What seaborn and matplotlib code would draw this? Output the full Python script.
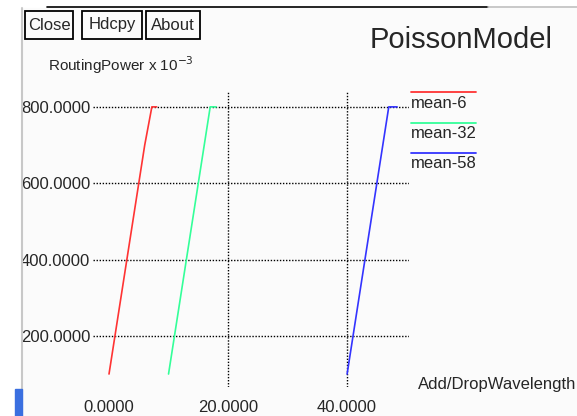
import pandas as pd
import seaborn as sns
import matplotlib.pyplot as plt
from matplotlib.lines import Line2D
from matplotlib.patches import Rectangle

# data
series_names = ["mean-6", "mean-32", "mean-58"]
wavelength_6 = [0, 1, 2, 3, 4, 5, 6, 7.2, 8]
wavelength_32 = [10, 11, 12, 13, 14, 15, 16, 17, 18]
wavelength_58 = [40, 41, 42, 43, 44, 45, 46, 47, 48.4]
routing_power = [100, 200, 300, 400, 500, 600, 700, 800, 800]
colors = ["#ff3333", "#33ff99", "#3333ff"]

x_ticks = [0, 20, 40]
y_ticks = [200, 400, 600, 800]

W, H = 577, 416
BG = "#fbfbfb"


def build_frame():
    rows = []
    for name, xs in zip(series_names, [wavelength_6, wavelength_32, wavelength_58]):
        for x, y in zip(xs, routing_power):
            rows.append({"series": name, "wavelength": x, "power": y})
    return pd.DataFrame(rows)


def px(x, y):
    # pixel position -> figure fraction
    return x / W, 1 - y / H


def main():
    sns.set_style("white")
    plt.rcParams["font.family"] = ["Liberation Sans", "DejaVu Sans"]

    df = build_frame()
    fig = plt.figure(figsize=(W / 100, H / 100), dpi=100)
    fig.patch.set_facecolor("white")

    # window decorations
    fig.add_artist(Rectangle(px(22, H), (W - 22) / W, (H - 8) / H,
                             transform=fig.transFigure, color=BG, zorder=0))
    fig.add_artist(Line2D([21.5 / W] * 2, [0, 1 - 8 / H], transform=fig.transFigure,
                          color="#c8c8c8", lw=1.5))
    fig.add_artist(Line2D([47 / W, 488 / W], [1 - 7 / H] * 2, transform=fig.transFigure,
                          color="black", lw=1.2))
    fig.add_artist(Line2D([488 / W, 1], [1 - 7 / H] * 2, transform=fig.transFigure,
                          color="#c0c0c0", lw=1.2))
    fig.add_artist(Rectangle(px(15, H), 7 / W, 27 / H, transform=fig.transFigure,
                             color="#3a6fe0", zorder=2))

    ax = fig.add_axes([93 / W, (H - 387) / H, 316 / W, 295 / H])
    ax.set_facecolor(BG)
    sns.lineplot(data=df, x="wavelength", y="power", hue="series", palette=colors,
                 hue_order=series_names, sort=False, estimator=None, lw=1.2,
                 legend=False, ax=ax)

    ax.set_xlim(-2.69, 50.4)
    ax.set_ylim(66, 839)
    ax.set_xticks(x_ticks)
    ax.set_xticklabels([f"{v:.4f}" for v in x_ticks])
    ax.set_yticks(y_ticks)
    ax.set_yticklabels([f"{v:.4f}" for v in y_ticks])
    ax.tick_params(length=0, labelsize=12)
    ax.tick_params(axis="y", pad=2)
    ax.tick_params(axis="x", pad=9)
    ax.grid(True, color="black", linestyle=(0, (1, 1.2)), lw=1)
    # no grid line at x = 0 in the original
    ax.xaxis.get_major_ticks()[0].gridline.set_visible(False)
    ax.set_xlabel("")
    ax.set_ylabel("")
    for s in ax.spines.values():
        s.set_visible(False)

    # buttons (left, right edges in pixels)
    for label, x0, x1 in [("Close", 25, 73), ("Hdcpy", 82, 142), ("About", 146, 200)]:
        fig.add_artist(Rectangle(px(x0, 39), (x1 - x0) / W, 28 / H,
                                 transform=fig.transFigure, fc=BG, ec="black", lw=1.3))
        fig.text((x0 + x1) / 2 / W, 1 - 25 / H, label, fontsize=12, va="center",
                 ha="center")

    fig.text(48 / W, 1 - 65 / H, r"RoutingPower x 10$^{-3}$", fontsize=11, va="center")
    fig.text(553 / W, 1 - 40 / H, "PoissonModel", fontsize=21, ha="right", va="center")
    fig.text(576 / W, 1 - 385 / H, "Add/DropWavelength", fontsize=12, ha="right", va="center")

    # legend
    for i, (name, c) in enumerate(zip(series_names, colors)):
        y = 92 + 30.5 * i
        fig.add_artist(Line2D([411 / W, 476 / W], [1 - y / H] * 2,
                              transform=fig.transFigure, color=c, lw=1.3))
        fig.text(411 / W, 1 - (y + 11) / H, name, fontsize=12, va="center")

    plt.savefig("out.png", dpi=100, facecolor=fig.get_facecolor())
    plt.close()


if __name__ == "__main__":
    main()
